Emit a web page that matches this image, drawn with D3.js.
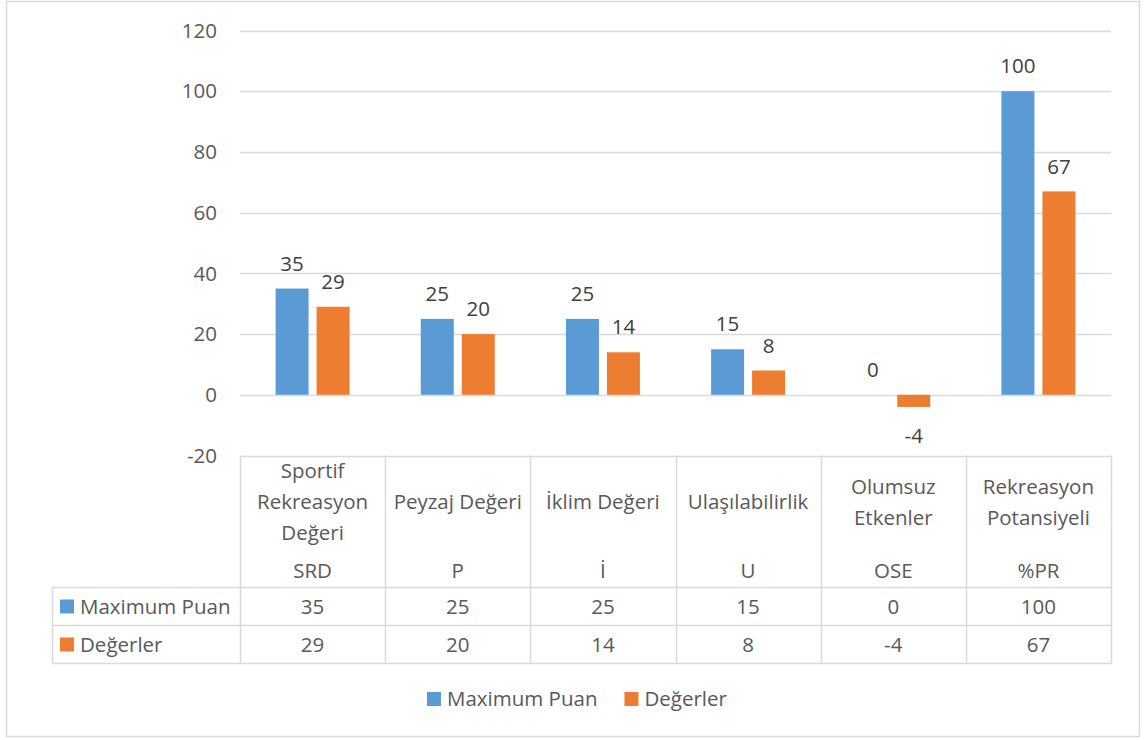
<!DOCTYPE html>
<html>
<head>
<meta charset="utf-8">
<script src="https://cdn.jsdelivr.net/npm/d3@7/dist/d3.min.js"></script>
<style>
  body { margin: 0; background: #fff; }
  text { font-family: "Open Sans", "Noto Sans", sans-serif; fill: #595959; }
</style>
</head>
<body>
<svg id="chart" width="1146" height="740"></svg>
<script>
// veriler
var categories = [
  ["Sportif", "Rekreasyon", "Değeri"],
  ["Peyzaj Değeri"],
  ["İklim Değeri"],
  ["Ulaşılabilirlik"],
  ["Olumsuz", "Etkenler"],
  ["Rekreasyon", "Potansiyeli"]
];
var codes = ["SRD", "P", "İ", "U", "OSE", "%PR"];
var seriesNames = ["Maximum Puan", "Değerler"];
var maxPuan = [35, 25, 25, 15, 0, 100];
var degerler = [29, 20, 14, 8, -4, 67];
var yTicks = [-20, 0, 20, 40, 60, 80, 100, 120];
var colors = ["#5B9BD5", "#ED7D31"];

var svg = d3.select("#chart");
var fs = 20.5;

// çerçeve
svg.append("rect").attr("x", 6.5).attr("y", 1.5).attr("width", 1133).attr("height", 735)
  .attr("fill", "#fff").attr("stroke", "#d9d9d9").attr("stroke-width", 1.5);

var left = 240, right = 1111;
var y = d3.scaleLinear().domain([-20, 120]).range([455.5, 30.5]);
var idx = d3.range(categories.length);
var x0 = d3.scaleBand().domain(idx).range([left, right]);
var bw = x0.bandwidth();
var x1 = d3.scaleBand().domain([0, 1]).range([0, bw]).paddingInner(0.195).paddingOuter(0.868);

// yatay çizgiler
svg.selectAll(".grid").data(yTicks).enter().append("line")
  .attr("x1", left).attr("x2", right)
  .attr("y1", function(d) { return Math.round(y(d)) + 0.5; })
  .attr("y2", function(d) { return Math.round(y(d)) + 0.5; })
  .attr("stroke", "#d9d9d9").attr("stroke-width", 1.5);

svg.selectAll(".ytick").data(yTicks).enter().append("text")
  .attr("x", 217).attr("y", function(d) { return y(d); })
  .attr("dy", "0.35em").attr("text-anchor", "end")
  .attr("font-size", fs).text(function(d) { return d; });

var data = [maxPuan, degerler];

// çubuklar
data.forEach(function(vals, s) {
  svg.selectAll(".bar" + s).data(vals).enter().append("rect")
    .attr("x", function(d, i) { return x0(i) + x1(s); })
    .attr("width", x1.bandwidth())
    .attr("y", function(d) { return y(Math.max(0, d)); })
    .attr("height", function(d) { return Math.abs(y(d) - y(0)); })
    .attr("fill", colors[s]);

  svg.selectAll(".lbl" + s).data(vals).enter().append("text")
    .attr("x", function(d, i) { return x0(i) + x1(s) + x1.bandwidth() / 2; })
    .attr("y", function(d) { return d < 0 ? y(d) + 29 : y(d) - 25; })
    .attr("dy", "0.35em").attr("text-anchor", "middle")
    .attr("font-size", fs)
    .style("fill", "#404040")
    .text(function(d) { return d; });
});

// veri tablosu
var tableTop = 455.5, headBottom = 587.5, rowH = 38;
var rows = [tableTop, headBottom, headBottom + rowH, headBottom + 2 * rowH];
var gridColor = "#d9d9d9";
var tg = svg.append("g");

// dikey çizgiler
idx.concat([categories.length]).forEach(function(i) {
  var xx = i < categories.length ? x0(i) : right;
  xx = Math.round(xx) + 0.5;
  tg.append("line").attr("x1", xx).attr("x2", xx).attr("y1", tableTop).attr("y2", rows[3])
    .attr("stroke", gridColor).attr("stroke-width", 1.5);
});
tg.append("line").attr("x1", 52.5).attr("x2", 52.5).attr("y1", headBottom).attr("y2", rows[3])
  .attr("stroke", gridColor).attr("stroke-width", 1.5);
[headBottom, headBottom + rowH, headBottom + 2 * rowH].forEach(function(yy) {
  tg.append("line").attr("x1", 52).attr("x2", right).attr("y1", yy).attr("y2", yy)
    .attr("stroke", gridColor).attr("stroke-width", 1.5);
});

// kategori başlıkları
categories.forEach(function(lines, i) {
  var cx = x0(i) + bw / 2;
  var lh = 31;
  var start = 502 - (lines.length - 1) * lh / 2;
  lines.forEach(function(t, j) {
    tg.append("text").attr("x", cx).attr("y", start + j * lh).attr("dy", "0.35em")
      .attr("text-anchor", "middle").attr("font-size", fs).text(t);
  });
  tg.append("text").attr("x", cx).attr("y", 571).attr("dy", "0.35em")
    .attr("text-anchor", "middle").attr("font-size", fs).text(codes[i]);
});

// satırlar
data.forEach(function(vals, s) {
  var cy = headBottom + rowH * s + rowH / 2;
  tg.append("rect").attr("x", 60).attr("y", cy - 7).attr("width", 14).attr("height", 14).attr("fill", colors[s]);
  tg.append("text").attr("x", 80).attr("y", cy).attr("dy", "0.35em").attr("font-size", fs).text(seriesNames[s]);
  vals.forEach(function(v, i) {
    tg.append("text").attr("x", x0(i) + bw / 2).attr("y", cy).attr("dy", "0.35em")
      .attr("text-anchor", "middle").attr("font-size", fs).text(v);
  });
});

// lejant
var lg = svg.append("g").attr("transform", "translate(427,699)");
var lx = 0;
seriesNames.forEach(function(n, s) {
  lg.append("rect").attr("x", lx).attr("y", -7).attr("width", 14).attr("height", 14).attr("fill", colors[s]);
  var t = lg.append("text").attr("x", lx + 20).attr("y", 0).attr("dy", "0.35em").attr("font-size", fs).text(n);
  lx += 20 + t.node().getComputedTextLength() + 27;
});
</script>
</body>
</html>
